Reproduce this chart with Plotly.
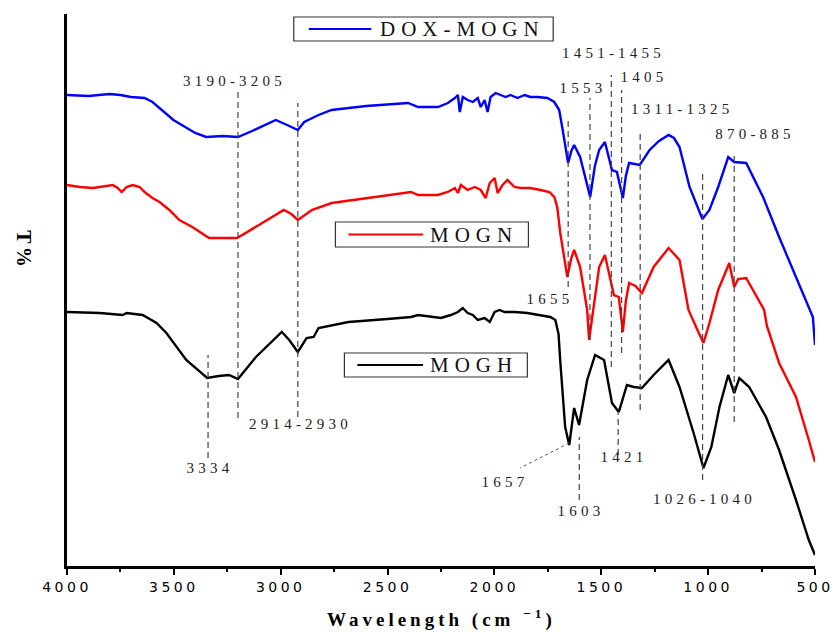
import plotly.graph_objects as go

# ---- FTIR spectra (wavenumber in cm-1, stacked transmittance in arbitrary units) ----
dox_wn = [4000, 3900, 3800, 3750, 3700, 3637, 3600, 3502, 3400, 3349, 3270, 3200, 3134,
          3023, 2970, 2920, 2890, 2823, 2762, 2600, 2404, 2357, 2264, 2218, 2185, 2171,
          2162, 2148, 2125, 2101, 2078, 2064, 2046, 2032, 2018, 1994, 1971, 1948, 1925,
          1892, 1859, 1832, 1799, 1752, 1720, 1697, 1683, 1673, 1655, 1640, 1627, 1599,
          1575, 1552, 1530, 1510, 1483, 1465, 1450, 1427, 1399, 1385, 1370, 1320, 1274,
          1230, 1185, 1160, 1134, 1087, 1050, 1027, 994, 953, 906, 878, 822, 743, 668,
          589, 510, 500]
dox_t = [471, 470, 472, 471, 469, 468, 464, 446, 433, 429, 430, 429, 435,
         446, 441, 436, 444, 451, 456, 460, 463, 459, 459, 463, 468, 471,
         454, 469, 466, 464, 468, 459, 466, 454, 469, 473, 471, 469, 471,
         468, 471, 469, 469, 468, 464, 456, 439, 426, 403, 415, 421, 409,
         390, 369, 400, 416, 424, 410, 396, 394, 368, 390, 403, 401, 416,
         425, 431, 428, 419, 379, 360, 347, 356, 379, 409, 404, 403, 369, 329,
         289, 249, 221]

mogn_wn = [4000, 3940, 3879, 3846, 3814, 3786, 3763, 3744, 3721, 3693, 3660, 3637, 3600,
           3567, 3521, 3474, 3414, 3335, 3270, 3204, 3102, 2986, 2950, 2920, 2880, 2855,
           2762, 2600, 2390, 2357, 2264, 2218, 2185, 2171, 2157, 2125, 2092, 2064, 2041,
           2022, 1999, 1985, 1962, 1939, 1906, 1878, 1832, 1785, 1743, 1720, 1706, 1692,
           1669, 1659, 1640, 1627, 1599, 1566, 1557, 1530, 1510, 1483, 1460, 1441, 1418,
           1399, 1385, 1370, 1340, 1310, 1255, 1185, 1134, 1092, 1050, 1022, 994, 953,
           901, 878, 860, 822, 738, 725, 668, 589, 529, 500]
mogn_t = [381, 379, 378, 379, 380, 381, 378, 374, 379, 381, 379, 374, 368,
          364, 356, 346, 339, 328, 328, 328, 341, 356, 352, 346, 352, 356,
          363, 368, 374, 371, 371, 374, 378, 373, 381, 376, 379, 376, 368,
          383, 388, 373, 381, 386, 379, 378, 378, 376, 374, 369, 359, 333,
          299, 289, 308, 316, 299, 256, 226, 268, 299, 311, 289, 271, 269,
          234, 265, 283, 280, 273, 299, 318, 306, 256, 236, 223, 243, 276,
          303, 279, 287, 288, 256, 240, 203, 169, 126, 104]

mogh_wn = [4000, 3846, 3740, 3721, 3646, 3581, 3535, 3442, 3344, 3290, 3242, 3200, 3116,
           2995, 2960, 2920, 2879, 2846, 2823, 2683, 2500, 2390, 2357, 2297, 2250, 2204,
           2171, 2148, 2125, 2101, 2078, 2046, 2022, 1999, 1976, 1953, 1906, 1846, 1785,
           1739, 1715, 1700, 1692, 1669, 1650, 1627, 1604, 1566, 1529, 1487, 1450, 1418,
           1380, 1348, 1310, 1255, 1185, 1134, 1068, 1022, 985, 947, 906, 878, 854, 808,
           729, 668, 589, 529, 500]
mogh_t = [254, 253, 251, 253, 251, 243, 233, 206, 188, 190, 191, 187, 209,
          234, 226, 214, 228, 229, 238, 244, 247, 249, 251, 249, 248, 251,
          254, 258, 253, 251, 246, 248, 244, 254, 256, 254, 254, 253, 251,
          249, 246, 232, 205, 139, 121, 158, 141, 186, 211, 206, 163, 154,
          181, 179, 178, 191, 206, 179, 133, 98, 119, 159, 191, 173, 188, 179,
          149, 116, 66, 26, 11]

series_names = ["DOX-MOGN", "MOGN", "MOGH"]
series_colors = ["#0000ff", "#ff0000", "#000000"]

x_ticks = [4000, 3500, 3000, 2500, 2000, 1500, 1000, 500]

# Peak guides: (wavenumber, lower T, upper T)
peak_guides = [
    (3200, 148, 474), (2920, 149, 463), (3340, 108, 211),
    (1655, 279, 446), (1553, 226, 468), (1453, 199, 491),
    (1405, 213, 476), (1318, 156, 433), (1421, 111, 153),
    (1603, 66, 129), (1026, 86, 394), (878, 144, 414),
]

# Peak labels: (text, wavenumber, T)
peak_labels = [
    ("3190-3205", 3218, 485), ("2914-2930", 2906, 142), ("3334", 3330, 98),
    ("1451-1455", 1441, 513), ("1553", 1585, 478), ("1405", 1301, 489),
    ("1311-1325", 1124, 457), ("870-885", 780, 432), ("1655", 1739, 267),
    ("1657", 1948, 84), ("1603", 1594, 55), ("1421", 1394, 109),
    ("1026-1040", 1017, 67),
]

fig = go.Figure()
for wn, t, name, col in zip([dox_wn, mogn_wn, mogh_wn], [dox_t, mogn_t, mogh_t],
                            series_names, series_colors):
    fig.add_trace(go.Scatter(x=wn, y=t, mode="lines", name=name,
                             line=dict(color=col, width=2.4), showlegend=False))

shapes = []
for wn, lo, hi in peak_guides:
    shapes.append(dict(type="line", xref="x", yref="y", x0=wn, x1=wn, y0=lo, y1=hi,
                       line=dict(color="#444444", width=1.2, dash="6px,4px")))
# dotted leader for the 1657 band
shapes.append(dict(type="line", xref="x", yref="y", x0=1650, y0=123, x1=1880, y1=98,
                   line=dict(color="#555555", width=1, dash="dot")))

annotations = []
for text, wn, t in peak_labels:
    annotations.append(dict(x=wn, y=t, xref="x", yref="y", text=text, showarrow=False,
                            font=dict(family="Liberation Serif", size=15, color="#222222")))

# framed key boxes, one per spectrum
key_boxes = [  # (x0, x1, y0, y1, line x0, line x1, text x) in wavenumber / T units
    (2939, 1725, 525, 549, 2869, 2576, 2544),
    (2744, 1841, 319, 344, 2683, 2334, 2311),
    (2702, 1846, 189, 213, 2641, 2334, 2311),
]
for (bx0, bx1, by0, by1, lx0, lx1, tx), name, col in zip(key_boxes, series_names, series_colors):
    ym = (by0 + by1) / 2
    shapes.append(dict(type="rect", xref="x", yref="y", x0=bx0, x1=bx1, y0=by0, y1=by1,
                       line=dict(color="#333333", width=1.2), fillcolor="white", layer="above"))
    shapes.append(dict(type="line", xref="x", yref="y", x0=lx0, x1=lx1, y0=ym, y1=ym,
                       line=dict(color=col, width=2), layer="above"))
    annotations.append(dict(x=tx, y=ym, xref="x", yref="y", text=name, showarrow=False,
                            xanchor="left", align="left",
                            font=dict(family="Liberation Serif", size=21, color="#111111")))

# axis titles
annotations.append(dict(x=0.5, y=-0.096, xref="paper", yref="paper",
                        text="<b>Wavelength (cm <sup>−1</sup>)</b>", showarrow=False,
                        yanchor="middle",
                        font=dict(family="Liberation Serif", size=19, color="black")))
annotations.append(dict(x=-0.075, y=0.572, xref="paper", yref="paper", text="<b>T%</b>",
                        showarrow=False, textangle=90,
                        font=dict(family="Liberation Serif", size=20, color="black")))

fig.update_layout(
    width=840, height=632, autosize=False,
    margin=dict(l=67, r=20, t=14, b=66),
    plot_bgcolor="white", paper_bgcolor="white",
    shapes=shapes, annotations=annotations,
    xaxis=dict(range=[4000, 500], tickvals=x_ticks, ticktext=[str(v) for v in x_ticks],
               showline=True, linecolor="black", linewidth=3, mirror=False,
               ticks="outside", ticklen=6, tickwidth=2, tickcolor="black",
               minor=dict(ticks="outside", ticklen=3, tickwidth=2, dtick=250,
                          tickcolor="black"),
               showgrid=False, zeroline=False,
               tickfont=dict(family="DejaVu Sans", size=14, color="black")),
    yaxis=dict(range=[0, 552], showline=True, linecolor="black", linewidth=3,
               showticklabels=False, ticks="", showgrid=False, zeroline=False),
)

# widen glyph tracking per text size
spacing_js = """
var sp = {'15px': '4.2px', '21px': '6px', '20px': '3px', '19px': '4px', '14px': '3.5px'};
document.querySelectorAll('text').forEach(function(t){
  var s = sp[t.style.fontSize];
  if (s) { t.style.letterSpacing = s; }
});
"""

fig.write_html("out.html", post_script=spacing_js)
